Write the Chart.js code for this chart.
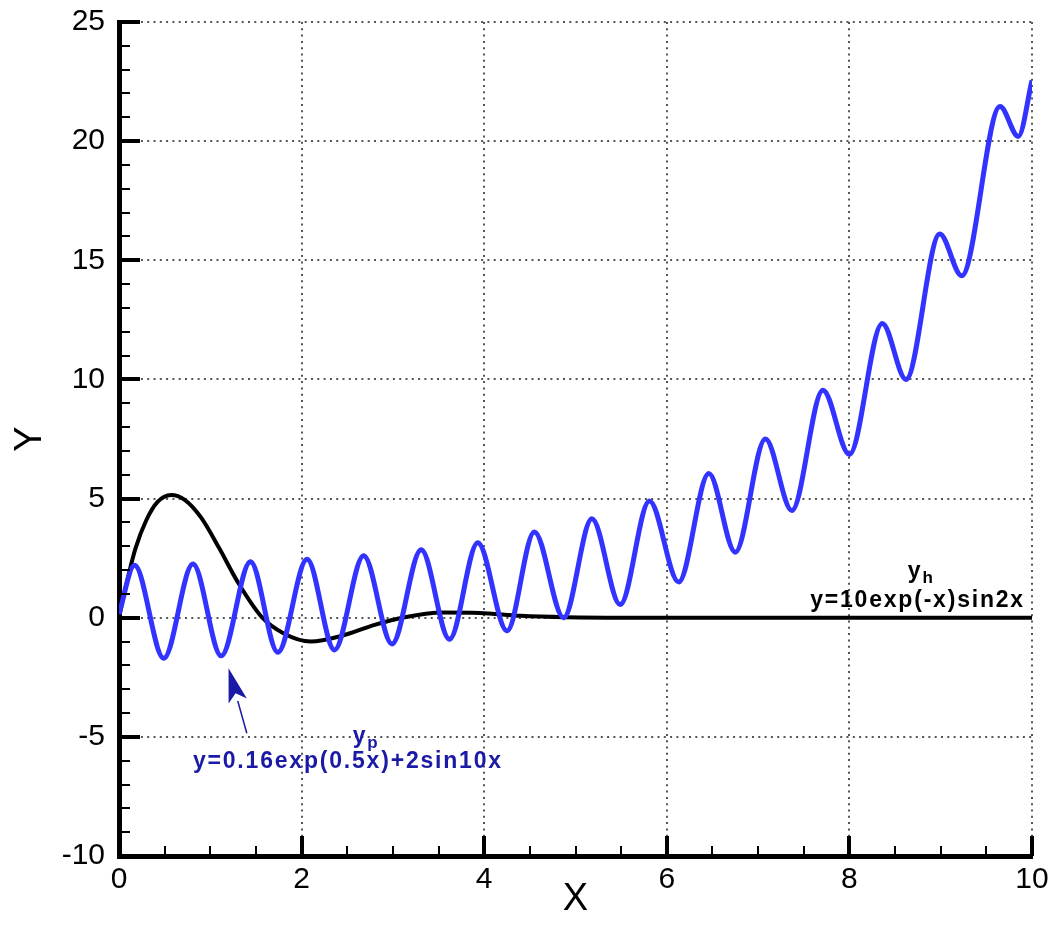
<!DOCTYPE html>
<html>
<head>
<meta charset="utf-8">
<script src="https://cdn.jsdelivr.net/npm/chart.js@4"></script>
<style>
  html, body { margin: 0; background: #fff; }
  #wrap { width: 1050px; height: 930px; }
</style>
</head>
<body>
<div id="wrap"><canvas id="myChart" width="1050" height="930"></canvas></div>
<script>
// particular solution y_p: crests and troughs along the curve
const xPart = [0, 0.17, 0.49, 0.81, 1.12, 1.44, 1.74, 2.06, 2.36, 2.68, 2.99, 3.31, 3.62, 3.93, 4.25,
  4.55, 4.87, 5.18, 5.49, 5.81, 6.13, 6.46, 6.75, 7.08, 7.37, 7.71, 8.0, 8.36, 8.62, 8.99, 9.23, 9.65, 9.85, 10];
const yPart = [0.16, 2.2, -1.7, 2.25, -1.6, 2.35, -1.45, 2.45, -1.35, 2.6, -1.1, 2.85, -0.9, 3.15, -0.55,
  3.6, 0.0, 4.15, 0.55, 4.9, 1.5, 6.05, 2.75, 7.5, 4.5, 9.55, 6.85, 12.35, 10.0, 16.1, 14.35, 21.45, 20.2, 22.55];

// homogeneous solution y_h
const xHom = [0, 0.08, 0.18, 0.3, 0.42, 0.57, 0.72, 0.9, 1.1, 1.3, 1.57, 1.8, 2.1, 2.45, 2.8, 3.1,
  3.55, 3.95, 4.4, 4.9, 5.5, 7, 10];
const yHom = [0, 1.4, 2.9, 4.1, 4.85, 5.15, 4.95, 4.2, 2.9, 1.5, 0, -0.65, -1.0, -0.75, -0.3, 0,
  0.22, 0.2, 0.08, 0.02, 0, 0, 0];

const xTickValues = [0, 2, 4, 6, 8, 10];
const yTickValues = [-10, -5, 0, 5, 10, 15, 20, 25];
const xMinorStep = 0.5;
const yMinorStep = 1;

// text labels and the arrow, in data units
const notes = [
  { main: "y", sub: "h", x: 8.64, y: 1.67, color: "#000" },
  { main: "y=10exp(-x)sin2x", sub: "", x: 7.57, y: 0.45, color: "#000" },
  { main: "y", sub: "p", x: 2.56, y: -5.25, color: "#1a1aa6" },
  { main: "y=0.16exp(0.5x)+2sin10x", sub: "", x: 0.81, y: -6.3, color: "#1a1aa6" },
];
const arrowFrom = [1.40, -4.85];
const arrowTo = [1.20, -2.12];

const FONT = "'Liberation Sans', Arial, sans-serif";

function toPoints(xs, ys) {
  return xs.map((v, i) => ({ x: v, y: ys[i] }));
}

const tickMarks = {
  id: "tickMarks",
  afterDraw(chart) {
    const { ctx, chartArea, scales: { x, y } } = chart;
    ctx.save();
    ctx.strokeStyle = "#000";
    const xMin = xTickValues[0], xMax = xTickValues[xTickValues.length - 1];
    for (let v = xMin; v <= xMax + 1e-9; v += xMinorStep) {
      const major = xTickValues.includes(Math.round(v * 100) / 100);
      const px = Math.round(x.getPixelForValue(v));
      ctx.lineWidth = major ? 4 : 2;
      ctx.beginPath();
      ctx.moveTo(px, chartArea.bottom);
      ctx.lineTo(px, chartArea.bottom - (major ? 20 : 10));
      ctx.stroke();
    }
    const yMin = yTickValues[0], yMax = yTickValues[yTickValues.length - 1];
    for (let v = yMin; v <= yMax + 1e-9; v += yMinorStep) {
      const major = yTickValues.includes(v);
      const py = Math.round(y.getPixelForValue(v));
      ctx.lineWidth = major ? 4 : 2;
      ctx.beginPath();
      ctx.moveTo(chartArea.left, py);
      ctx.lineTo(chartArea.left + (major ? 21 : 11), py);
      ctx.stroke();
    }
    ctx.restore();
  },
};

const notesPlugin = {
  id: "notes",
  afterDatasetsDraw(chart) {
    const { ctx, scales: { x, y } } = chart;
    ctx.save();
    ctx.textBaseline = "alphabetic";
    ctx.textAlign = "left";
    for (const n of notes) {
      const px = x.getPixelForValue(n.x);
      const py = y.getPixelForValue(n.y);
      ctx.fillStyle = n.color;
      ctx.font = "bold 23px " + FONT;
      ctx.letterSpacing = "1.8px";
      ctx.fillText(n.main, px, py);
      if (n.sub) {
        const w = ctx.measureText(n.main).width;
        ctx.font = "bold 17px " + FONT;
        ctx.fillText(n.sub, px + w, py + 5);
      }
    }
    ctx.letterSpacing = "0px";

    // arrow pointing at the blue curve
    const x0 = x.getPixelForValue(arrowFrom[0]), y0 = y.getPixelForValue(arrowFrom[1]);
    const x1 = x.getPixelForValue(arrowTo[0]), y1 = y.getPixelForValue(arrowTo[1]);
    const ang = Math.atan2(y1 - y0, x1 - x0);
    const headLen = 34, headHalf = 9.5;
    const bx = x1 - headLen * Math.cos(ang), by = y1 - headLen * Math.sin(ang);
    ctx.strokeStyle = "#1a1aa6";
    ctx.fillStyle = "#1a1aa6";
    ctx.lineWidth = 1.5;
    ctx.beginPath();
    ctx.moveTo(x0, y0);
    ctx.lineTo(bx, by);
    ctx.stroke();
    ctx.beginPath();
    ctx.moveTo(x1, y1);
    ctx.lineTo(bx + headHalf * Math.sin(ang), by - headHalf * Math.cos(ang));
    ctx.lineTo(bx + 8 * Math.cos(ang), by + 8 * Math.sin(ang));
    ctx.lineTo(bx - headHalf * Math.sin(ang), by + headHalf * Math.cos(ang));
    ctx.closePath();
    ctx.fill();
    ctx.restore();
  },
};

const gridStyle = { color: "#555", lineWidth: 2, drawTicks: false };
const borderStyle = { color: "#000", width: 5, dash: [2, 4.3] };

new Chart(document.getElementById("myChart").getContext("2d"), {
  type: "line",
  data: {
    datasets: [
      {
        label: "y_p",
        data: toPoints(xPart, yPart),
        borderColor: "#3333ff",
        borderWidth: 5,
        pointRadius: 0,
        cubicInterpolationMode: "monotone",
        fill: false,
      },
      {
        label: "y_h",
        data: toPoints(xHom, yHom),
        borderColor: "#000",
        borderWidth: 4,
        pointRadius: 0,
        cubicInterpolationMode: "monotone",
        fill: false,
      },
    ],
  },
  options: {
    responsive: false,
    animation: false,
    events: [],
    layout: { padding: { top: 22, right: 18, bottom: 0, left: 0 } },
    plugins: { legend: { display: false }, tooltip: { enabled: false } },
    scales: {
      x: {
        type: "linear",
        min: 0,
        max: 10,
        afterBuildTicks: (s) => { s.ticks = xTickValues.map((v) => ({ value: v })); },
        afterFit: (s) => { s.height = 74; s.paddingLeft = 0; s.paddingRight = 0; },
        grid: gridStyle,
        border: borderStyle,
        ticks: { color: "#000", padding: 6, font: { family: FONT, size: 30 } },
        title: { display: true, text: "X", color: "#000", padding: { top: 0, bottom: 8 }, font: { family: FONT, size: 38 } },
      },
      y: {
        type: "linear",
        min: -10,
        max: 25,
        afterBuildTicks: (s) => { s.ticks = yTickValues.map((v) => ({ value: v })); },
        afterFit: (s) => { s.width = 119; s.paddingTop = 0; s.paddingBottom = 0; },
        grid: gridStyle,
        border: borderStyle,
        ticks: { color: "#000", padding: 14, font: { family: FONT, size: 30 } },
        title: { display: true, text: "Y", color: "#000", padding: { top: 8, bottom: 0 }, font: { family: FONT, size: 38 } },
      },
    },
  },
  plugins: [tickMarks, notesPlugin],
});
</script>
</body>
</html>
